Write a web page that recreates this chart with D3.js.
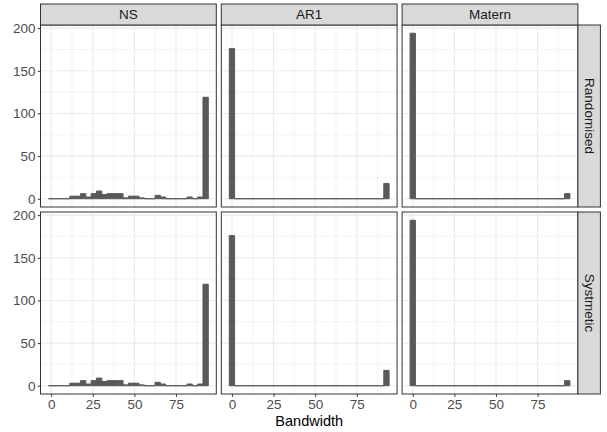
<!DOCTYPE html>
<html><head><meta charset="utf-8">
<script src="https://cdn.jsdelivr.net/npm/d3@7"></script>
<style>body{margin:0;background:#fff}svg{display:block}text{font-family:"Liberation Sans",Arial,sans-serif}</style>
</head><body><svg id="c" width="607" height="432"></svg>
<script>
// ---- data ----
const methods = ["NS", "AR1", "Matern"];
const designs = ["Randomised", "Systmetic"];
const binWidth = 3.2;                       // histogram bin width (30 bins)
const binCenters = d3.range(30).map(k => k * binWidth);
const countsNS     = [0,0,0,0,3,3,6,2,6,9,5,6,6,6,1,3,3,1,0,0,4,2,0,0,0,0,2,0,2,119];
const countsAR1    = [176,0,0,0,0,0,0,0,0,0,0,0,0,0,0,0,0,0,0,0,0,0,0,0,0,0,0,0,0,18];
const countsMatern = [194,0,0,0,0,0,0,0,0,0,0,0,0,0,0,0,0,0,0,0,0,0,0,0,0,0,0,0,0,6];
const countsByMethod = {NS: countsNS, AR1: countsAR1, Matern: countsMatern};
const xTicks = [0, 25, 50, 75];
const xMinor = [12.5, 37.5, 62.5, 87.5];
const yTicks = [0, 50, 100, 150, 200];
const yMinor = [25, 75, 125, 175];
const xTitle = "Bandwidth";

// ---- layout ----
const svg = d3.select("#c");
const pL = 40.5, pW = 175.8, gX = 5;
const pT = 25, pH = 182, gY = 5;
const stripH = 21, stripW = 22.5;
const grey = "#595959", border = "#333333", gridC = "#EBEBEB";

const xmax = d3.max(binCenters) + binWidth / 2, xmin = -binWidth / 2;
const xr = xmax - xmin;
const ymaxAll = d3.max([...countsNS, ...countsAR1, ...countsMatern]);

designs.forEach((des, r) => {
  methods.forEach((m, c) => {
    const x0 = pL + c * (pW + gX), y0 = pT + r * (pH + gY);
    const x = d3.scaleLinear().domain([xmin - 0.05 * xr, xmax + 0.05 * xr]).range([x0, x0 + pW]);
    const y = d3.scaleLinear().domain([-0.05 * ymaxAll, ymaxAll * 1.05]).range([y0 + pH, y0]);
    const g = svg.append("g");
    g.append("rect").attr("x", x0).attr("y", y0).attr("width", pW).attr("height", pH).attr("fill", "#fff");
    // grid
    xMinor.forEach(v => g.append("line").attr("x1", x(v)).attr("x2", x(v)).attr("y1", y0).attr("y2", y0 + pH).attr("stroke", gridC).attr("stroke-width", 0.6));
    yMinor.forEach(v => g.append("line").attr("y1", y(v)).attr("y2", y(v)).attr("x1", x0).attr("x2", x0 + pW).attr("stroke", gridC).attr("stroke-width", 0.6));
    xTicks.forEach(v => g.append("line").attr("x1", x(v)).attr("x2", x(v)).attr("y1", y0).attr("y2", y0 + pH).attr("stroke", gridC).attr("stroke-width", 1.1));
    yTicks.forEach(v => g.append("line").attr("y1", y(v)).attr("y2", y(v)).attr("x1", x0).attr("x2", x0 + pW).attr("stroke", gridC).attr("stroke-width", 1.1));
    // bars (paths so that empty bins show as a baseline)
    const counts = countsByMethod[m];
    g.selectAll("path.bar").data(binCenters).enter().append("path").attr("class", "bar")
      .attr("d", (d, i) => {
        const xa = x(d - binWidth / 2), xb = x(d + binWidth / 2), yb = y(0), yt = y(counts[i]);
        return `M${xa},${yb}V${yt}H${xb}V${yb}Z`;
      })
      .attr("fill", grey).attr("stroke", grey).attr("stroke-width", 1);
    // border
    g.append("rect").attr("x", x0).attr("y", y0).attr("width", pW).attr("height", pH)
      .attr("fill", "none").attr("stroke", border).attr("stroke-width", 1);
    // y axis (first column)
    if (c === 0) {
      const ya = g.append("g").attr("transform", `translate(${x0},0)`)
        .call(d3.axisLeft(y).tickValues(yTicks).tickSize(2.75).tickPadding(2.2).tickFormat(d3.format("d")));
      ya.select(".domain").remove();
      ya.selectAll("line").attr("stroke", border);
      ya.selectAll("text").attr("fill", "#4D4D4D").style("font-size", "13.5px").style("font-family", "Liberation Sans, Arial, sans-serif");
    }
    // x axis (bottom row)
    if (r === designs.length - 1) {
      const xa = g.append("g").attr("transform", `translate(0,${y0 + pH})`)
        .call(d3.axisBottom(x).tickValues(xTicks).tickSize(2.75).tickPadding(2.2).tickFormat(d3.format("d")));
      xa.select(".domain").remove();
      xa.selectAll("line").attr("stroke", border);
      xa.selectAll("text").attr("fill", "#4D4D4D").style("font-size", "13.5px").style("font-family", "Liberation Sans, Arial, sans-serif");
    }
    // top strip
    if (r === 0) {
      g.append("rect").attr("x", x0).attr("y", y0 - stripH).attr("width", pW).attr("height", stripH)
        .attr("fill", "#D9D9D9").attr("stroke", border).attr("stroke-width", 1);
      g.append("text").attr("x", x0 + pW / 2).attr("y", y0 - stripH / 2).attr("text-anchor", "middle")
        .attr("dominant-baseline", "central").attr("fill", "#1A1A1A").style("font-size", "13.5px").text(m);
    }
    // right strip
    if (c === methods.length - 1) {
      const sx = x0 + pW;
      g.append("rect").attr("x", sx).attr("y", y0).attr("width", stripW).attr("height", pH)
        .attr("fill", "#D9D9D9").attr("stroke", border).attr("stroke-width", 1);
      g.append("text").attr("transform", `translate(${sx + stripW / 2},${y0 + pH / 2}) rotate(90)`)
        .attr("text-anchor", "middle").attr("dominant-baseline", "central").attr("fill", "#1A1A1A")
        .style("font-size", "13.5px").text(des);
    }
  });
});
// x title
svg.append("text").attr("x", pL + (3 * pW + 2 * gX) / 2).attr("y", 421).attr("text-anchor", "middle")
  .attr("dominant-baseline", "central").attr("fill", "#000").style("font-size", "14.5px").text(xTitle);
</script></body></html>
